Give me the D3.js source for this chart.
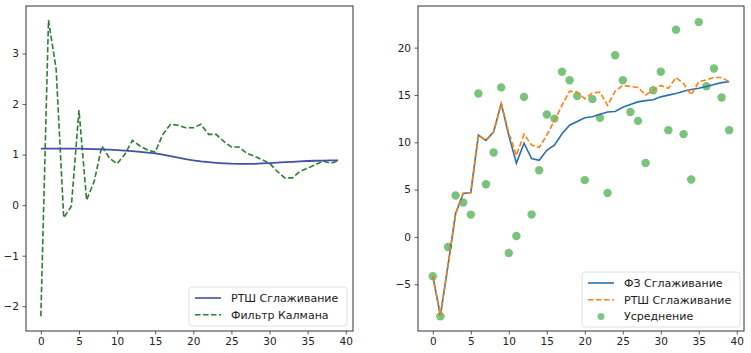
<!DOCTYPE html>
<html><head><meta charset="utf-8">
<script src="https://cdn.jsdelivr.net/npm/d3@7"></script>
<style>body{margin:0;background:#fff;} svg{display:block;font-family:"DejaVu Sans",sans-serif;}</style>
</head><body>
<svg id="chart" width="751" height="353"></svg>
<script>
// ---- data ----
const steps = d3.range(40);
const leftXTicks = [0,5,10,15,20,25,30,35,40];
const leftYTicks = [-2,-1,0,1,2,3];
const rightXTicks = [0,5,10,15,20,25,30,35,40];
const rightYTicks = [-5,0,5,10,15,20];

const rtsLeft = [1.12,1.12,1.12,1.12,1.12,1.12,1.115,1.11,1.105,1.1,1.09,1.08,1.07,1.055,1.04,1.025,1.0,0.97,0.94,0.91,0.885,0.865,0.85,0.838,0.828,0.82,0.816,0.815,0.818,0.825,0.832,0.84,0.85,0.858,0.866,0.873,0.878,0.882,0.885,0.887];
const kalmanLeft = [-2.2,3.66,2.7,-0.25,-0.02,1.88,0.1,0.47,1.17,0.93,0.82,1.0,1.28,1.17,1.09,1.05,1.4,1.6,1.58,1.53,1.53,1.6,1.4,1.4,1.26,1.15,1.15,1.03,0.97,0.9,0.83,0.67,0.54,0.54,0.67,0.73,0.8,0.87,0.83,0.87];

const fzRight = [-4.15,-8.3,-3.0,2.47,4.6,4.7,10.75,10.2,11.1,14.1,10.7,7.8,9.9,8.28,8.1,9.16,9.7,10.9,11.8,12.2,12.6,12.7,12.97,13.2,13.25,13.7,14.0,14.27,14.4,14.5,14.8,14.98,15.16,15.4,15.58,15.7,15.9,16.1,16.3,16.4];
const rtsRight = [-4.15,-8.3,-3.0,2.47,4.6,4.7,10.75,10.2,11.1,14.1,11.0,8.6,10.86,9.7,9.45,10.75,12.3,13.9,15.4,15.3,14.6,15.2,15.3,13.9,15.4,16.0,15.9,15.8,15.0,15.5,16.0,15.7,16.85,16.2,15.0,16.4,16.6,16.85,16.85,16.4];
const avgRight = [-4.15,-8.38,-1.06,4.37,3.63,2.36,15.16,5.57,8.92,15.8,-1.69,0.1,14.8,2.37,7.05,12.94,12.5,17.45,16.56,14.9,6.0,14.56,12.6,4.65,19.2,16.56,13.2,12.26,7.82,15.5,17.45,11.28,21.9,10.86,6.07,22.7,15.93,17.8,14.73,11.28];

const leftLegend = ["РТШ Сглаживание","Фильтр Калмана"];
const rightLegend = ["ФЗ Сглаживание","РТШ Сглаживание","Усреднение"];

// ---- drawing ----
const svg = d3.select("#chart");
const fmt = d => (d<0 ? "\u2212"+Math.abs(d) : String(d));

function panel(box, xDom, yDom, xTicks, yTicks){
  const g = svg.append("g");
  const x = d3.scaleLinear().domain(xDom).range([box.l, box.r]);
  const y = d3.scaleLinear().domain(yDom).range([box.b, box.t]);
  const xa = g.append("g").attr("transform",`translate(0,${box.b})`)
    .call(d3.axisBottom(x).tickValues(xTicks).tickFormat(fmt).tickSize(3.5).tickPadding(3.5));
  const ya = g.append("g").attr("transform",`translate(${box.l},0)`)
    .call(d3.axisLeft(y).tickValues(yTicks).tickFormat(fmt).tickSize(3.5).tickPadding(3.5));
  [xa,ya].forEach(a=>{
    a.select(".domain").remove();
    a.selectAll("line").attr("stroke","#333").attr("stroke-width",0.8);
    a.selectAll("text").attr("fill","#222").attr("font-size",10.5).attr("font-family","DejaVu Sans");
  });
  g.append("rect").attr("x",box.l).attr("y",box.t).attr("width",box.r-box.l).attr("height",box.b-box.t)
    .attr("fill","none").attr("stroke","#333").attr("stroke-width",1);
  return {g,x,y};
}

function legend(g, x0, y0, w, h, items){
  const lg = g.append("g");
  lg.append("rect").attr("x",x0).attr("y",y0).attr("width",w).attr("height",h).attr("rx",3)
    .attr("fill","#fff").attr("fill-opacity",0.8).attr("stroke","#d8d8d8").attr("stroke-width",0.8);
  items.forEach((it,i)=>{
    const cy = y0 + 11 + i*16.7;
    if(it.type==="line"){
      lg.append("line").attr("x1",x0+6).attr("x2",x0+32).attr("y1",cy).attr("y2",cy)
        .attr("stroke",it.color).attr("stroke-width",1.6).attr("stroke-dasharray",it.dash||null);
    } else {
      lg.append("circle").attr("cx",x0+19).attr("cy",cy).attr("r",3.5).attr("fill",it.color).attr("opacity",0.7);
    }
    lg.append("text").attr("x",x0+42).attr("y",cy).attr("dy","0.35em").attr("font-size",11)
      .attr("fill","#222").text(it.label);
  });
}

// left panel
const L = panel({l:26,r:353,t:6,b:331},[-1.95,40.95],[-2.49,3.94],leftXTicks,leftYTicks);
const lineL = d3.line().x((d,i)=>L.x(steps[i])).y(d=>L.y(d));
L.g.append("path").datum(kalmanLeft).attr("d",lineL).attr("fill","none")
  .attr("stroke","#2b7d2f").attr("stroke-width",1.6).attr("stroke-dasharray","5.5,2.5");
L.g.append("path").datum(rtsLeft).attr("d",lineL).attr("fill","none")
  .attr("stroke","#4052a6").attr("stroke-width",1.8);
legend(L.g, 189, 287, 158, 39, [
  {type:"line",color:"#4052a6",label:leftLegend[0]},
  {type:"line",color:"#2b7d2f",dash:"5.5,2.5",label:leftLegend[1]}]);

// right panel
const R = panel({l:418,r:744,t:6,b:331},[-1.95,40.95],[-9.94,24.4],rightXTicks,rightYTicks);
const lineR = d3.line().x((d,i)=>R.x(steps[i])).y(d=>R.y(d));
R.g.selectAll("circle.avg").data(avgRight).join("circle").attr("class","avg")
  .attr("cx",(d,i)=>R.x(steps[i])).attr("cy",d=>R.y(d)).attr("r",4.2)
  .attr("fill","#4caf50").attr("opacity",0.75);
R.g.append("path").datum(fzRight).attr("d",lineR).attr("fill","none")
  .attr("stroke","#2a6fae").attr("stroke-width",1.6);
R.g.append("path").datum(rtsRight).attr("d",lineR).attr("fill","none")
  .attr("stroke","#ff7f0e").attr("stroke-width",1.6).attr("stroke-dasharray","5.5,2.5");
legend(R.g, 582, 272, 158, 55, [
  {type:"line",color:"#2a6fae",label:rightLegend[0]},
  {type:"line",color:"#ff7f0e",dash:"5.5,2.5",label:rightLegend[1]},
  {type:"dot",color:"#4caf50",label:rightLegend[2]}]);
</script>
</body></html>
